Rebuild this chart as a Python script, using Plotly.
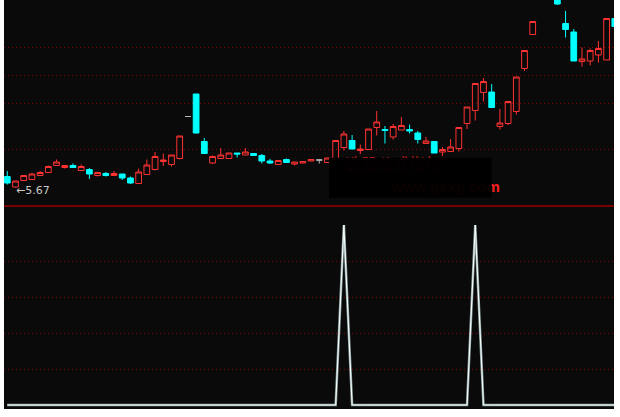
import plotly.graph_objects as go

# ---------------- data ----------------
bar_index = list(range(75))

open_ = [5.89, 5.68, 5.81, 5.83, 5.91, 5.97, 6.11, 6.07, 6.11, 6.01,
         6.03, 5.91, 5.95, 5.91, 5.94, 5.86, 5.75, 5.93, 6.03, 6.19,
         6.13, 6.25, 7.09, 7.54, 6.59, 6.16, 6.25, 6.25, 6.36, 6.32,
         6.35, 6.31, 6.20, 6.13, 6.23, 6.14, 6.16, 6.20, 6.22, 6.17,
         6.18, 6.47, 6.61, 6.41, 6.43, 6.87, 6.83, 6.68, 6.82, 6.83,
         6.76, 6.55, 6.59, 6.38, 6.39, 6.45, 6.95, 7.21, 7.57, 7.58,
         6.89, 6.95, 7.19, 8.05, 8.73, 9.60, 9.95, 9.90, 8.95, 8.78,
         8.19, 8.20, 8.32, 8.22, 9.05]
high = [6.00, 5.80, 5.92, 5.96, 6.00, 6.11, 6.23, 6.12, 6.15, 6.13,
        6.06, 5.98, 5.98, 6.00, 5.94, 5.89, 6.05, 6.23, 6.38, 6.35,
        6.32, 6.70, 7.09, 7.54, 6.66, 6.31, 6.46, 6.36, 6.36, 6.46,
        6.36, 6.34, 6.24, 6.21, 6.25, 6.18, 6.19, 6.23, 6.23, 6.26,
        6.61, 6.80, 6.72, 6.53, 6.84, 7.20, 6.90, 6.94, 7.08, 6.93,
        6.80, 6.68, 6.59, 6.48, 6.64, 6.87, 7.28, 7.75, 7.86, 7.74,
        7.24, 7.39, 7.88, 8.41, 8.99, 9.89, 10.20, 10.00, 9.20, 8.84,
        8.47, 8.45, 8.60, 9.05, 9.05]
low = [5.73, 5.67, 5.80, 5.82, 5.90, 5.96, 6.10, 6.05, 6.06, 6.00,
       5.84, 5.89, 5.89, 5.91, 5.82, 5.74, 5.75, 5.93, 6.01, 6.10,
       6.09, 6.23, 7.09, 6.75, 6.35, 6.14, 6.25, 6.25, 6.27, 6.32,
       6.30, 6.15, 6.14, 6.13, 6.16, 6.11, 6.16, 6.20, 6.15, 6.17,
       6.17, 6.41, 6.44, 6.34, 6.43, 6.71, 6.55, 6.63, 6.82, 6.75,
       6.55, 6.55, 6.36, 6.30, 6.39, 6.39, 6.84, 7.01, 7.39, 7.27,
       6.83, 6.92, 7.13, 8.00, 8.73, 9.50, 9.70, 9.32, 8.67, 8.20,
       8.09, 8.11, 8.17, 8.22, 8.89]
close = [5.76, 5.80, 5.91, 5.94, 5.97, 6.09, 6.18, 6.11, 6.07, 6.09,
         5.94, 5.97, 5.91, 5.95, 5.86, 5.76, 5.98, 6.12, 6.29, 6.22,
         6.32, 6.70, 7.09, 6.76, 6.35, 6.29, 6.32, 6.36, 6.34, 6.38,
         6.31, 6.20, 6.16, 6.21, 6.17, 6.18, 6.19, 6.23, 6.22, 6.26,
         6.61, 6.74, 6.44, 6.44, 6.84, 6.98, 6.81, 6.89, 6.91, 6.80,
         6.63, 6.60, 6.36, 6.43, 6.48, 6.87, 7.28, 7.75, 7.79, 7.27,
         6.96, 7.39, 7.88, 8.41, 8.99, 9.89, 10.05, 9.34, 8.83, 8.20,
         8.24, 8.41, 8.45, 9.05, 8.89]

signal = [0, 0, 0, 0, 0, 0, 0, 0, 0, 0,
          0, 0, 0, 0, 0, 0, 0, 0, 0, 0,
          0, 0, 0, 0, 0, 0, 0, 0, 0, 0,
          0, 0, 0, 0, 0, 0, 0, 0, 0, 0,
          0, 100, 0, 0, 0, 0, 0, 0, 0, 0,
          0, 0, 0, 0, 0, 0, 0, 100, 0, 0,
          0, 0, 0, 0, 0, 0, 0, 0, 0, 0,
          0, 0, 0, 0, 0]

price_grid = [9.40, 8.47, 7.91, 7.35, 6.44]
signal_grid = [20, 40, 60, 80]
low_label = "←5.67"
low_label_bar = 1
low_label_price = 5.67
watermark_top = "选股公式指标"
watermark_bottom = "www.gsxg.com"

# ---------------- styles ----------------
RED = "#ff3232"
CYAN = "#00ffff"
GRAY = "#b8b8b8"
BG = "#0a0a0a"
GRID = "#8b0000"

main_idx = [i for i in bar_index if open_[i] != close[i]]
flat_idx = [i for i in bar_index if open_[i] == close[i]]

fig = go.Figure()

# watermark text (mostly hidden beneath the masking box)
fig.add_trace(go.Scatter(
    x=[47], y=[6.11], mode="text", text=[watermark_top],
    textfont=dict(family="Noto Sans CJK SC", size=16, color="#e02020"),
    textposition="middle center", hoverinfo="skip", showlegend=False,
    xaxis="x", yaxis="y"))
fig.add_trace(go.Scatter(
    x=[60.0], y=[5.66], mode="text", text=["<b>" + watermark_bottom + "</b>"],
    textfont=dict(family="Liberation Sans", size=15, color="#ff2020"),
    textposition="middle left", hoverinfo="skip", showlegend=False,
    xaxis="x", yaxis="y"))

fig.add_trace(go.Candlestick(
    x=[bar_index[i] for i in main_idx],
    open=[open_[i] for i in main_idx],
    high=[high[i] for i in main_idx],
    low=[low[i] for i in main_idx],
    close=[close[i] for i in main_idx],
    increasing=dict(line=dict(color=RED, width=1), fillcolor="rgba(0,0,0,0)"),
    decreasing=dict(line=dict(color=CYAN, width=1), fillcolor=CYAN),
    whiskerwidth=0, showlegend=False, hoverinfo="skip",
    xaxis="x", yaxis="y"))

fig.add_trace(go.Candlestick(
    x=[bar_index[i] for i in flat_idx],
    open=[open_[i] for i in flat_idx],
    high=[high[i] for i in flat_idx],
    low=[low[i] for i in flat_idx],
    close=[close[i] for i in flat_idx],
    increasing=dict(line=dict(color=GRAY, width=1), fillcolor=GRAY),
    decreasing=dict(line=dict(color=GRAY, width=1), fillcolor=GRAY),
    whiskerwidth=0, showlegend=False, hoverinfo="skip",
    xaxis="x", yaxis="y"))

fig.add_trace(go.Scatter(
    x=bar_index, y=signal, mode="lines",
    line=dict(color="#8aa4a4", width=2.5),
    hoverinfo="skip", showlegend=False, xaxis="x", yaxis="y2"))
fig.add_trace(go.Scatter(
    x=bar_index, y=signal, mode="lines",
    line=dict(color="#ffffff", width=1),
    hoverinfo="skip", showlegend=False, xaxis="x", yaxis="y2"))

split = 1 - 206 / 409

fig.update_layout(
    width=620, height=417,
    margin=dict(l=4, r=6, t=0, b=8, pad=0),
    paper_bgcolor="#ffffff",
    plot_bgcolor=BG,
    boxgap=0.3, boxgroupgap=0,
    showlegend=False,
    xaxis=dict(range=[-0.40, 73.9], anchor="y2", showgrid=False,
               showticklabels=False, ticks="", zeroline=False,
               showline=False, rangeslider=dict(visible=False)),
    yaxis=dict(domain=[split, 1], range=[5.30, 9.42], tickvals=price_grid,
               showticklabels=False, ticks="", zeroline=False, showline=False,
               showgrid=True, gridcolor=GRID, griddash="1px,3px", gridwidth=1),
    yaxis2=dict(domain=[0, split], range=[-2.22, 110.56], tickvals=signal_grid,
                showticklabels=False, ticks="", zeroline=False, showline=False,
                showgrid=True, gridcolor=GRID, griddash="1px,3px", gridwidth=1),
    shapes=[
        dict(type="line", xref="paper", yref="paper", x0=0, x1=1,
             y0=split, y1=split, line=dict(color="#780000", width=2),
             layer="above"),
        dict(type="rect", xref="paper", yref="paper",
             x0=(329 - 4) / 610, x1=(491.7 - 4) / 610,
             y0=1 - 197.7 / 409, y1=1 - 157.7 / 409,
             fillcolor="rgba(0,0,0,0.965)", line=dict(width=0), layer="above"),
    ],
    annotations=[
        dict(x=low_label_bar, y=low_label_price, xref="x", yref="y",
             text=low_label, showarrow=False, xanchor="left", yanchor="middle",
             xshift=-1, yshift=-3,
             font=dict(family="DejaVu Sans", size=11, color="#c8c8c8")),
    ],
)

fig.write_html(
    "out.html",
    config={"displayModeBar": False},
    post_script="document.body.style.margin='0';document.body.style.overflow='hidden';",
)
